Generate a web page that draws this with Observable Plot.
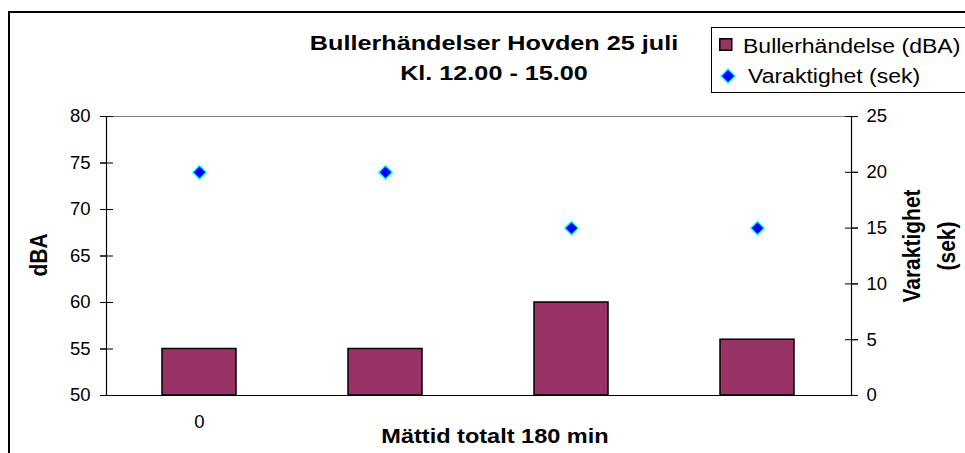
<!DOCTYPE html>
<html><head><meta charset="utf-8">
<script src="https://cdn.jsdelivr.net/npm/d3@7"></script>
<script src="https://cdn.jsdelivr.net/npm/@observablehq/plot@0.6"></script>
<style>
html,body{margin:0;padding:0;background:#fff;overflow:hidden}
#wrap{position:relative;width:965px;height:453px;overflow:hidden;font-family:"Liberation Sans",Arial,sans-serif;color:#000}
#frame{position:absolute;left:8px;top:11px;width:1000px;height:500px;border:2px solid #000;box-sizing:border-box}
#chart{position:absolute;left:0;top:0}
.title{position:absolute;left:194px;width:600px;text-align:center;font-weight:bold;font-size:21px;line-height:30px;top:28px;transform:scaleX(1.2);transform-origin:300px 0}
.legend{position:absolute;left:711px;top:27px;width:300px;height:66px;border:1px solid #000;box-sizing:border-box;background:#fff;font-size:20px;line-height:24px}
.legend .txt{position:absolute;white-space:nowrap;transform:scaleX(1.15);transform-origin:0 0}
.ytitle{position:absolute;font-weight:bold;font-size:21px;transform:translate(-50%,-50%) rotate(-90deg) scaleY(1.15);white-space:nowrap;text-align:center;line-height:31px}
.xtitle{position:absolute;left:245px;width:500px;text-align:center;font-weight:bold;font-size:21px;line-height:24px;top:424px;transform:scaleX(1.12);transform-origin:250px 0}
</style></head>
<body>
<div id="wrap">
  <div id="frame"></div>
  <div id="chart"></div>
  <div class="title">Bullerhändelser Hovden 25 juli<br>Kl. 12.00 - 15.00</div>
  <div class="legend">
    <svg width="14" height="14" style="position:absolute;left:7px;top:10px"><rect x="0.75" y="0.75" width="12" height="11.5" fill="#993366" stroke="#000" stroke-width="1.5"/></svg>
    <span class="txt" style="left:31px;top:6px">Bullerhändelse (dBA)</span>
    <svg width="16" height="16" style="position:absolute;left:8px;top:40px"><path d="M8 1 L15 8 L8 15 L1 8 Z" fill="#0000ff" stroke="#00ffff" stroke-width="1.3"/></svg>
    <span class="txt" style="left:36px;top:36px">Varaktighet (sek)</span>
  </div>
  <div class="ytitle" style="left:38px;top:255px">dBA</div>
  <div class="ytitle" style="left:929px;top:246px">Varaktighet<br>(sek)</div>
  <div class="xtitle">Mättid totalt 180 min</div>
</div>
<script>
const categories = [0, 1, 2, 3];
const xTickLabels = ["0", "", "", ""];
const bullerDBA = [55, 55, 60, 56];
const varaktighetSek = [20, 20, 15, 15];
const leftTicks = [50, 55, 60, 65, 70, 75, 80];
const rightTicks = [0, 5, 10, 15, 20, 25];

// map the secondary axis (0–25 sek) onto the primary (50–80 dBA)
const toLeft = s => 50 + s * 30 / 25;
const fromLeft = v => Math.round((v - 50) * 25 / 30);

const chart = Plot.plot({
  width: 965,
  height: 453,
  marginLeft: 106,
  marginRight: 114,
  marginTop: 116,
  marginBottom: 58,
  style: {fontFamily: "'Liberation Sans', Arial, sans-serif", fontSize: "18.5px", color: "#000", background: "transparent", overflow: "visible"},
  x: {type: "band", domain: categories, paddingInner: 0.6, paddingOuter: 0.3},
  y: {domain: [50, 80]},
  marks: [
    Plot.ruleY([80], {stroke: "#808080", strokeWidth: 1.2}),
    Plot.barY(categories, {x: d => d, y1: 50, y2: (d, i) => bullerDBA[i], fill: "#993366", stroke: "#000", strokeWidth: 1.5}),
    Plot.frame({anchor: "bottom", stroke: "#000", strokeWidth: 1.2}),
    Plot.frame({anchor: "left", stroke: "#000", strokeWidth: 1.2}),
    Plot.frame({anchor: "right", stroke: "#000", strokeWidth: 1.2}),
    Plot.dot(categories, {x: d => d, y: (d, i) => toLeft(varaktighetSek[i]), symbol: "diamond2", r: 6, fill: "#0000ff", stroke: "#00ffff", strokeWidth: 1.3}),
    Plot.axisY(leftTicks, {anchor: "left", tickSize: 13, dx: 7, tickFormat: () => "", label: null}),
    Plot.axisY(leftTicks, {anchor: "left", tickSize: 6, tickPadding: 10, tickFormat: d => String(d), label: null}),
    Plot.axisY(rightTicks.map(toLeft), {anchor: "right", tickSize: 13, dx: -7, tickFormat: () => "", label: null}),
    Plot.axisY(rightTicks.map(toLeft), {anchor: "right", tickSize: 6, tickPadding: 9, tickFormat: d => String(fromLeft(d)), label: null}),
    Plot.axisX({tickSize: 0, tickPadding: 19, tickFormat: i => xTickLabels[i], label: null})
  ]
});
document.getElementById("chart").appendChild(chart);
</script>
</body></html>
